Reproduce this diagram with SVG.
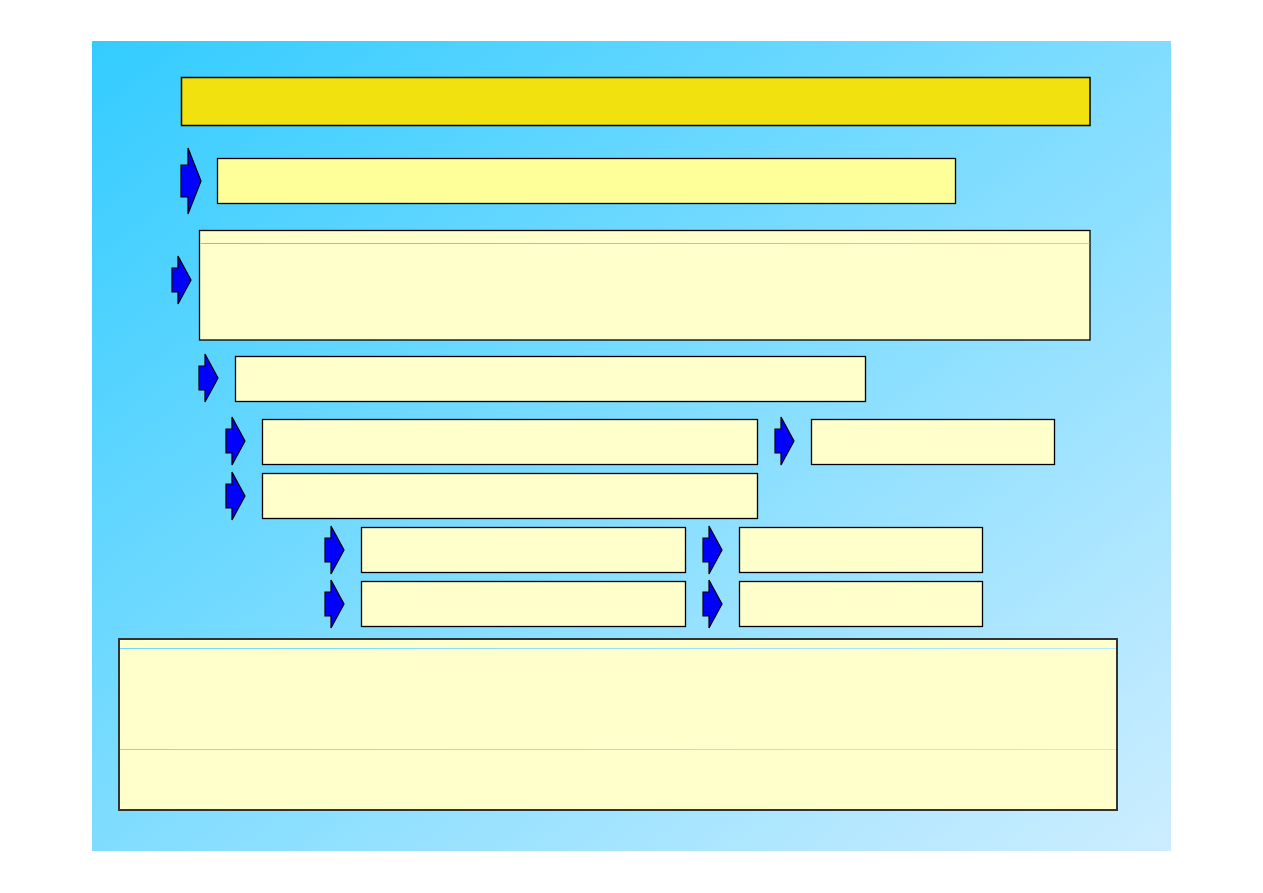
<svg xmlns="http://www.w3.org/2000/svg" width="1263" height="893" viewBox="0 0 1263 893">
<defs>
<linearGradient id="bg" gradientUnits="userSpaceOnUse" x1="0" y1="0" x2="1" y2="1" gradientTransform="translate(92,41) scale(1079,810)">
<stop offset="0" stop-color="#33CCFF"/>
<stop offset="1" stop-color="#CDEDFF"/>
</linearGradient>
<path id="arr" d="M0,-12 L6,-12 L6,-24 L19,0 L6,24 L6,12 L0,12 Z"/>
</defs>
<style>
.box{fill:#FFFFCC;stroke:#000;stroke-width:1.3}
.b2{fill:#FFFF99;stroke:#000;stroke-width:1.3}
.title{fill:#F1E20F;stroke:#000;stroke-width:1.5}
.big{fill:#FFFFCC;stroke:#333;stroke-width:2}
.sep{stroke:url(#bg);stroke-width:1}
.a{fill:#0000FF;stroke:#000;stroke-width:1.2;stroke-linejoin:miter}
</style>
<rect x="0" y="0" width="1263" height="893" fill="#FFFFFF"/>
<rect x="92" y="41" width="1079" height="810" fill="url(#bg)"/>
<g id="connectors">
<path class="a" d="M181,165 L188,165 L188,148 L201,181 L188,214 L188,197 L181,197 Z"/>
<use href="#arr" class="a" x="172" y="280"/>
<use href="#arr" class="a" x="199" y="378"/>
<use href="#arr" class="a" x="226" y="441"/>
<use href="#arr" class="a" x="775" y="441"/>
<use href="#arr" class="a" x="226" y="496"/>
<use href="#arr" class="a" x="325" y="550"/>
<use href="#arr" class="a" x="703" y="550"/>
<use href="#arr" class="a" x="325" y="604"/>
<use href="#arr" class="a" x="703" y="604"/>
</g>
<g id="n-title"><rect class="title" x="181.5" y="77.5" width="908.5" height="48"/></g>
<g id="n2"><rect class="b2" x="217.5" y="158.5" width="738" height="45"/></g>
<g id="n3"><rect class="box" x="199.5" y="230.5" width="890.5" height="109.5"/><line class="sep" x1="200.5" y1="243.5" x2="1089.5" y2="243.5"/></g>
<g id="n4"><rect class="box" x="235.5" y="356.5" width="630" height="45"/></g>
<g id="n5"><rect class="box" x="262.5" y="419.5" width="495" height="45"/></g>
<g id="n6"><rect class="box" x="811.5" y="419.5" width="243" height="45"/></g>
<g id="n7"><rect class="box" x="262.5" y="473.5" width="495" height="45"/></g>
<g id="n8"><rect class="box" x="361.5" y="527.5" width="324" height="45"/></g>
<g id="n9"><rect class="box" x="739.5" y="527.5" width="243" height="45"/></g>
<g id="n10"><rect class="box" x="361.5" y="581.5" width="324" height="45"/></g>
<g id="n11"><rect class="box" x="739.5" y="581.5" width="243" height="45"/></g>
<g id="n12"><rect class="big" x="119" y="639" width="998" height="171"/><line class="sep" x1="120" y1="648.5" x2="1116" y2="648.5"/><line class="sep" x1="120" y1="749.5" x2="1116" y2="749.5"/></g>
</svg>
